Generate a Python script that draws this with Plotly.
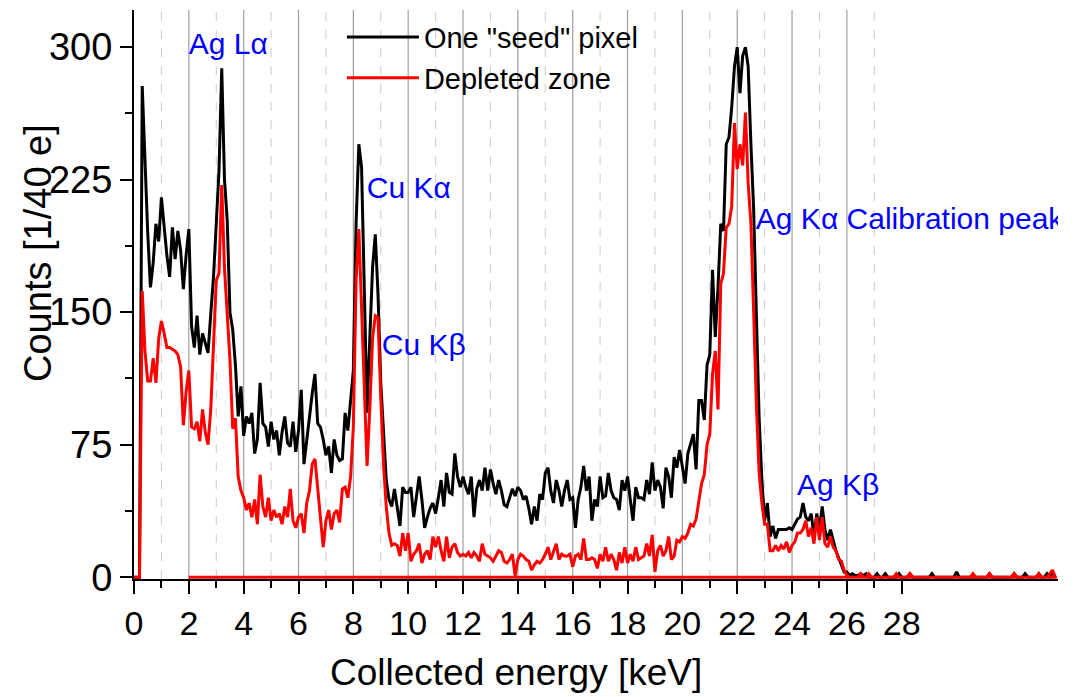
import numpy as np
import plotly.graph_objects as go

# Energy bins (keV), 0.1 keV wide
energy_kev = np.round(np.arange(0, 337) * 0.1, 1)

seed_pixel_counts = [
    0, 0, 0, 278, 230, 195, 164, 178, 200, 190,
    215, 198, 182, 170, 198, 180, 196, 185, 163, 182,
    197, 142, 130, 148, 126, 138, 133, 127, 149, 170,
    200, 230, 288, 225, 202, 150, 140, 120, 91, 108,
    80, 91, 87, 93, 70, 78, 110, 87, 85, 74,
    88, 78, 83, 69, 82, 91, 76, 74, 88, 71,
    83, 106, 64, 78, 93, 104, 115, 87, 85, 78,
    69, 74, 59, 78, 69, 66, 67, 93, 83, 98,
    117, 200, 245, 232, 165, 93, 135, 175, 194, 160,
    110, 83, 55, 44, 40, 50, 40, 29, 51, 48,
    48, 51, 34, 45, 57, 44, 28, 34, 39, 42,
    36, 45, 55, 40, 59, 48, 47, 70, 57, 51,
    57, 51, 47, 57, 34, 50, 55, 49, 62, 49,
    61, 53, 47, 55, 49, 41, 40, 45, 50, 46,
    51, 49, 44, 46, 39, 30, 40, 32, 47, 44,
    59, 62, 49, 42, 55, 49, 40, 49, 55, 44,
    45, 28, 44, 51, 63, 49, 57, 32, 44, 40,
    57, 45, 46, 59, 49, 45, 44, 38, 55, 49,
    57, 44, 32, 51, 45, 45, 44, 55, 47, 65,
    49, 55, 51, 39, 62, 57, 45, 68, 62, 72,
    63, 53, 70, 76, 81, 61, 100, 100, 89, 120,
    126, 174, 136, 164, 200, 196, 245, 249, 266, 289,
    300, 274, 295, 300, 289, 245, 208, 148, 90, 55,
    32, 42, 23, 29, 22, 27, 27, 27, 27, 28,
    27, 30, 33, 34, 42, 34, 32, 36, 23, 36,
    27, 40, 27, 21, 27, 21, 15, 11, 7, 3,
    3, 1, 2, 1, 1, 2, 1, 2, 0, 0,
    0, 2, 0, 0, 2, 0, 0, 0, 0, 2,
    0, 0, 0, 2, 0, 0, 0, 0, 0, 0,
    0, 2, 0, 0, 0, 0, 0, 0, 0, 0,
    3, 0, 0, 0, 0, 0, 0, 0, 0, 0,
    0, 0, 2, 0, 0, 0, 0, 0, 0, 0,
    0, 2, 0, 0, 0, 2, 0, 0, 0, 0,
    2, 0, 0, 2, 0, 3, 0,
]

depleted_zone_counts = [
    0, 0, 0, 162, 128, 111, 111, 124, 110, 135,
    145, 138, 130, 130, 129, 128, 126, 119, 86, 105,
    117, 85, 84, 88, 77, 95, 82, 75, 95, 132,
    168, 172, 222, 175, 149, 123, 84, 90, 57, 49,
    45, 38, 42, 34, 44, 30, 58, 40, 34, 45,
    32, 38, 34, 36, 30, 40, 34, 50, 32, 28,
    34, 36, 25, 42, 49, 64, 67, 50, 36, 17,
    32, 38, 27, 36, 38, 31, 50, 51, 45, 57,
    85, 168, 197, 150, 100, 63, 95, 135, 148, 147,
    102, 64, 40, 25, 18, 19, 18, 12, 25, 15,
    25, 9, 13, 15, 19, 8, 13, 15, 10, 23,
    17, 23, 15, 9, 23, 11, 17, 19, 14, 12,
    13, 12, 14, 11, 14, 12, 9, 19, 13, 12,
    11, 9, 12, 15, 14, 9, 8, 10, 13, 1,
    10, 13, 12, 10, 9, 4, 7, 9, 8, 10,
    13, 17, 10, 15, 19, 10, 13, 12, 12, 13,
    6, 12, 13, 10, 22, 10, 10, 11, 10, 5,
    13, 9, 17, 9, 13, 10, 4, 14, 8, 17,
    8, 13, 9, 17, 10, 11, 12, 19, 12, 24,
    3, 15, 18, 12, 15, 23, 10, 12, 21, 20,
    23, 22, 25, 30, 29, 33, 44, 53, 58, 75,
    81, 115, 128, 95, 166, 172, 198, 200, 210, 257,
    231, 245, 233, 263, 223, 200, 150, 97, 59, 42,
    30, 30, 15, 15, 18, 15, 18, 16, 20, 14,
    18, 20, 25, 25, 27, 32, 23, 28, 19, 34,
    21, 34, 19, 17, 23, 17, 15, 10, 9, 4,
    1, 0, 0, 0, 0, 2, 0, 0, 2, 0,
    0, 0, 0, 0, 0, 0, 0, 0, 2, 0,
    0, 0, 0, 2, 0, 0, 0, 0, 0, 0,
    0, 0, 0, 0, 0, 0, 0, 0, 0, 0,
    0, 0, 0, 0, 0, 0, 2, 0, 0, 0,
    0, 0, 2, 0, 0, 0, 0, 0, 0, 0,
    0, 2, 0, 0, 0, 0, 0, 0, 0, 0,
    2, 0, 0, 0, 2, 4, 0,
]

# the depleted-zone trace returns along the baseline to 2 keV at its end
depleted_return_x = [2.0]
depleted_return_y = [0]

peak_labels = ["Ag Lα", "Cu Kα", "Cu Kβ", "Ag Kα Calibration peak", "Ag Kβ"]
peak_label_x = [2.0, 8.49, 9.04, 22.68, 24.18]
peak_label_y = [300.5, 219, 130, 201.5, 51]

x_tick_vals = list(range(0, 29, 2))
x_minor_vals = list(range(1, 28, 2))
y_tick_vals = [0, 75, 150, 225, 300]
y_minor_vals = [37.5, 112.5, 187.5, 262.5]
grid_solid = list(range(2, 27, 2))
grid_dashed = list(range(1, 28, 2))

FONT = "Arial, Liberation Sans, sans-serif"

fig = go.Figure()
fig.add_trace(go.Scatter(
    x=energy_kev, y=seed_pixel_counts, mode="lines",
    name='One "seed" pixel', line=dict(color="black", width=3)))
fig.add_trace(go.Scatter(
    x=list(energy_kev) + depleted_return_x,
    y=depleted_zone_counts + depleted_return_y, mode="lines",
    name="Depleted zone", line=dict(color="#ff0000", width=3)))
fig.add_trace(go.Scatter(
    x=peak_label_x, y=peak_label_y, text=peak_labels,
    mode="text", textposition="middle right", showlegend=False,
    cliponaxis=True, hoverinfo="skip",
    textfont=dict(family=FONT, size=30, color="#0000ff")))

shapes = []
for v in grid_solid:
    shapes.append(dict(type="line", xref="x", yref="paper", x0=v, x1=v, y0=0, y1=1,
                       line=dict(color="#a0a0a0", width=1.2), layer="below"))
for v in grid_dashed:
    shapes.append(dict(type="line", xref="x", yref="paper", x0=v, x1=v, y0=0, y1=1,
                       line=dict(color="#cccccc", width=1, dash="dash"), layer="below"))

fig.update_layout(
    width=1076, height=697,
    margin=dict(l=134, r=18, t=10, b=118),
    paper_bgcolor="white", plot_bgcolor="white",
    font=dict(family=FONT, color="black"),
    shapes=shapes,
    showlegend=True,
    legend=dict(x=0.225, y=0.997, xanchor="left", yanchor="top",
                bgcolor="rgba(0,0,0,0)", font=dict(size=29, family=FONT),
                itemwidth=72, tracegroupgap=0),
    xaxis=dict(range=[0, 33.7], showline=True, linecolor="black", linewidth=2,
               ticks="outside", ticklen=13, tickwidth=2, tickcolor="black",
               tickvals=x_tick_vals, tickfont=dict(size=34, family=FONT),
               showgrid=False, zeroline=False,
               minor=dict(tickvals=x_minor_vals, ticks="outside", ticklen=7,
                          tickwidth=2, tickcolor="black", showgrid=False)),
    yaxis=dict(range=[-1, 321], showline=True, linecolor="black", linewidth=2,
               ticks="outside", ticklen=12, tickwidth=2, tickcolor="black",
               tickvals=y_tick_vals, tickfont=dict(size=38, family=FONT),
               showgrid=False, zeroline=False,
               minor=dict(tickvals=y_minor_vals, ticks="outside", ticklen=7,
                          tickwidth=2, tickcolor="black", showgrid=False)),
    annotations=[
        dict(text="Collected energy [keV]", xref="paper", yref="paper",
             x=0.4134, y=-0.164, xanchor="center", yanchor="middle",
             showarrow=False, font=dict(size=37, family=FONT)),
        dict(text="Counts [1/40 e]", xref="paper", yref="paper",
             x=-0.1039, y=0.573, xanchor="center", yanchor="middle",
             textangle=-90, showarrow=False, font=dict(size=38, family=FONT)),
    ],
)

fig.write_html("out.html")
